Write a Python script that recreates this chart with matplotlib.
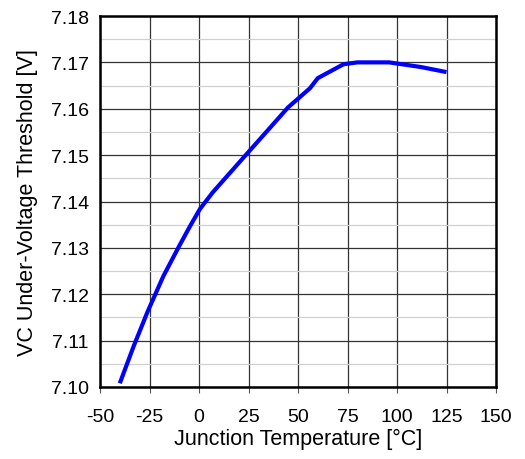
import numpy as np
import matplotlib.pyplot as plt

plt.rcParams['font.family'] = ['Liberation Sans', 'DejaVu Sans']
plt.rcParams['axes.unicode_minus'] = False

temp = [-40, -33, -26, -18, -10, -4.5, 0.5, 7, 24, 34, 45, 56, 60, 73, 80, 96, 112, 125]
vth = [7.1008, 7.1088, 7.1162, 7.1239, 7.1304, 7.1347, 7.1384, 7.1420, 7.1502,
       7.1550, 7.1603, 7.1644, 7.1666, 7.1696, 7.1700, 7.1700, 7.1690, 7.1679]

fig = plt.figure(figsize=(5.25, 4.6), dpi=100)
ax = fig.add_axes([100 / 525, 72 / 460, 396 / 525, 371 / 460])

ax.plot(temp, vth, color='#0000ff', lw=3, solid_capstyle='butt', zorder=3)

ax.set_xlim(-50, 150)
ax.set_ylim(7.10, 7.18)
ax.set_xticks(np.arange(-50, 151, 25))
ax.set_yticks(np.arange(7.10, 7.1801, 0.01))
ax.set_yticks(np.arange(7.105, 7.18, 0.01), minor=True)
ax.yaxis.set_major_formatter(plt.FormatStrFormatter('%.2f'))

ax.grid(True, which='major', color='#333333', lw=0.9)
ax.grid(True, which='minor', axis='y', color='#d0d0d0', lw=0.9)
ax.tick_params(which='minor', length=0)
ax.tick_params(axis='x', which='major', labelsize=14, length=4, pad=11, direction='out', color='#555555')
ax.tick_params(axis='y', which='major', labelsize=14, length=0, pad=8)
for s in ax.spines.values():
    s.set_linewidth(1.8)

ax.set_xlabel('Junction Temperature [°C]', fontsize=15.5, labelpad=2)
ax.set_ylabel('VC Under-Voltage Threshold [V]', fontsize=15.5, labelpad=9)

fig.savefig('out.png', dpi=100)
